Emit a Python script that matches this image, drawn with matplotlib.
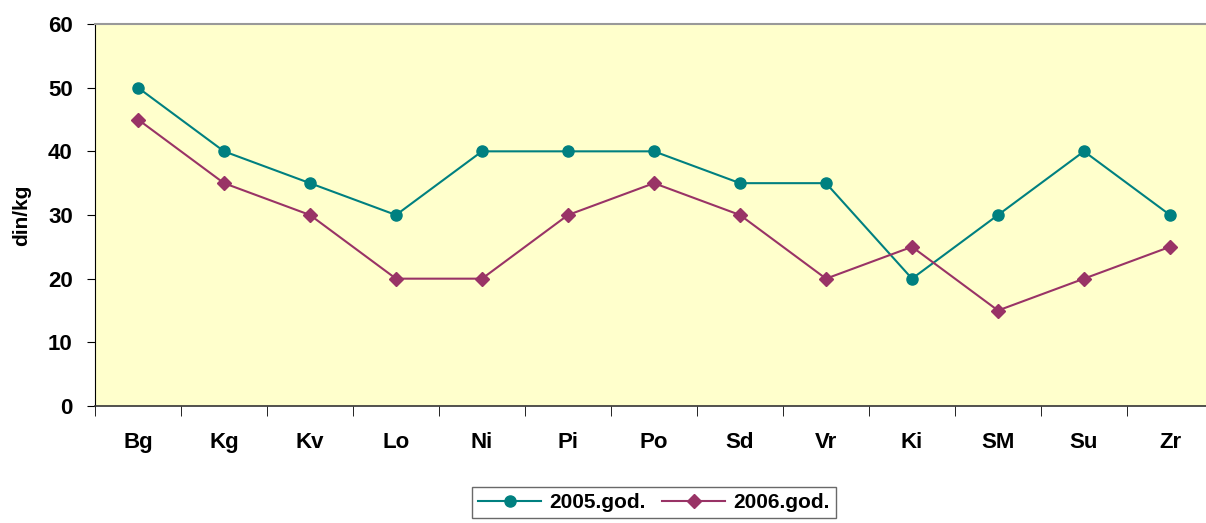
import matplotlib
matplotlib.use("Agg")
import matplotlib.pyplot as plt
import numpy as np

# podaci
gradovi = ['Bg', 'Kg', 'Kv', 'Lo', 'Ni', 'Pi', 'Po', 'Sd', 'Vr', 'Ki', 'SM', 'Su', 'Zr']
cena_2005 = [50, 40, 35, 30, 40, 40, 40, 35, 35, 20, 30, 40, 30]
cena_2006 = [45, 35, 30, 20, 20, 30, 35, 30, 20, 25, 15, 20, 25]

plt.rcParams['font.family'] = ['Liberation Sans', 'DejaVu Sans']
plt.rcParams['font.weight'] = 'bold'

fig = plt.figure(figsize=(12.06, 5.23), dpi=100)
W, H = 1206, 523
left, right, top, bottom = 95, 1213, 24, 406
ax = fig.add_axes([left / W, (H - bottom) / H, (right - left) / W, (bottom - top) / H])
ax.set_facecolor('#FFFFCC')

x = np.arange(len(gradovi))
ax.plot(x, cena_2005, color='#008080', marker='o', markersize=8, lw=1.5,
        label='2005.god.', clip_on=False)
ax.plot(x, cena_2006, color='#993366', marker='D', markersize=7, lw=1.5,
        label='2006.god.', clip_on=False)

ax.set_xlim(-0.5, len(gradovi) - 0.5)
ax.set_ylim(0, 60)
ax.set_yticks(range(0, 61, 10))
ax.set_xticks(x)
ax.set_xticklabels(gradovi, fontsize=16, fontweight='bold')
ax.set_xticks(np.arange(-0.5, len(gradovi), 1), minor=True)
ax.tick_params(axis='x', which='major', length=0, pad=19)
ax.tick_params(axis='x', which='minor', length=7, direction='out', color='black')
ax.tick_params(axis='y', length=6, direction='out', labelsize=16, pad=10)
for lbl in ax.get_yticklabels():
    lbl.set_fontweight('bold')

ax.spines['top'].set_color('#999999')
ax.spines['top'].set_linewidth(1.5)
ax.spines['right'].set_visible(False)
ax.spines['left'].set_color('black')
ax.spines['bottom'].set_color('#333333')
ax.spines['bottom'].set_linewidth(1.2)

ax.set_ylabel('din/kg', fontsize=15, fontweight='bold', labelpad=12)

leg = ax.legend(loc='upper center', bbox_to_anchor=(0.5, -0.212), ncol=2,
                frameon=True, fancybox=False, edgecolor='#444444',
                prop={'size': 15, 'weight': 'bold'}, handlelength=3,
                columnspacing=0.8, handletextpad=0.4, borderpad=0.3,
                borderaxespad=0)
leg.get_frame().set_linewidth(1.0)

fig.savefig('out.png', dpi=100)
